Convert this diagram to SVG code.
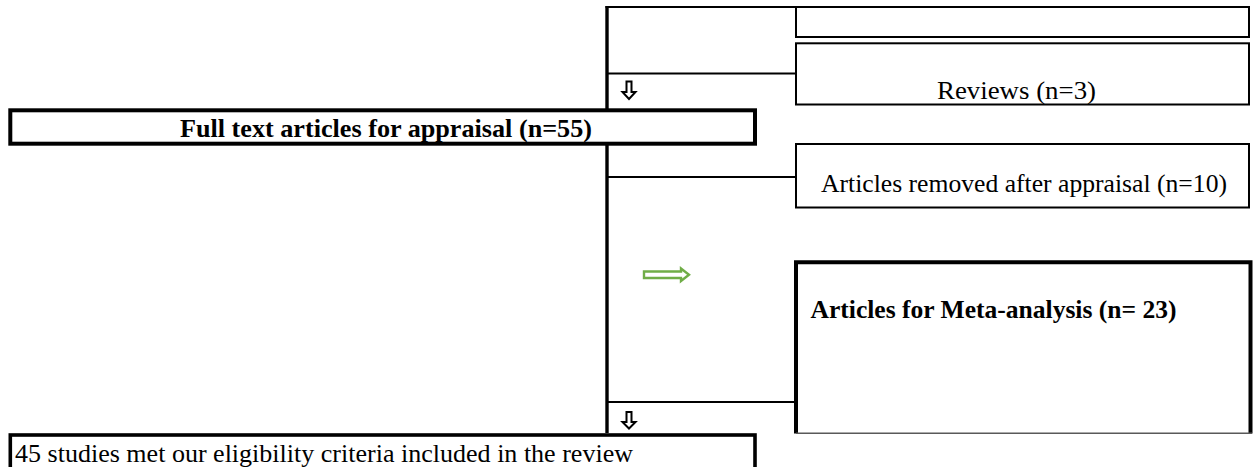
<svg xmlns="http://www.w3.org/2000/svg" width="1253" height="467" viewBox="0 0 1253 467">
<style>
.box{fill:#ffffff;stroke:#000000}
.thin{stroke-width:2}
.thick{stroke-width:4}
.t{font-family:"Liberation Serif","Times New Roman",serif;font-size:25px;fill:#000000}
.b{font-weight:bold;font-size:24.5px}
.ln{stroke:#000000;fill:none}
.arr{fill:#ffffff;stroke:#000000;stroke-width:2;stroke-linejoin:miter}
</style>
<rect width="1253" height="467" fill="#ffffff"/>
<g id="connectors">
<path class="ln" d="M607 6 V433" stroke-width="3.4"/>
<path class="ln" d="M605.5 7 H797" stroke-width="2.2"/>
<path class="ln" d="M607 73.5 H796" stroke-width="1.8"/>
<path class="ln" d="M607 177 H796" stroke-width="1.8"/>
<path class="ln" d="M607 402 H796" stroke-width="1.8"/>
<polygon class="arr" points="626.5,81.5 631.5,81.5 631.5,92 635.5,92 629,99 622.5,92 626.5,92"/>
<polygon class="arr" points="626.5,412 631.5,412 631.5,422 635.5,422 629,428.5 622.5,422 626.5,422"/>
<polygon points="644,271.5 681,271.5 681,268.5 689,274.8 681,281 681,278 644,278" fill="#ffffff" stroke="#70AD47" stroke-width="2.4"/>
</g>
<g id="top-box">
<rect class="box thin" x="796" y="7" width="453" height="30"/>
</g>
<g id="reviews">
<rect class="box thin" x="796" y="43.3" width="453" height="61.2"/>
<text class="t" x="937" y="99" textLength="159" lengthAdjust="spacingAndGlyphs">Reviews (n=3)</text>
</g>
<g id="full-text">
<rect class="box thick" x="10.3" y="110.3" width="744.7" height="33.4"/>
<text class="t b" x="180" y="136.5" textLength="412" lengthAdjust="spacingAndGlyphs">Full text articles for appraisal (n=55)</text>
</g>
<g id="removed">
<rect class="box thin" x="796" y="144" width="453" height="63.5"/>
<text class="t" x="821" y="192" textLength="406" lengthAdjust="spacingAndGlyphs">Articles removed after appraisal (n=10)</text>
</g>
<g id="meta">
<rect x="796" y="262.3" width="454.5" height="171" fill="#ffffff"/>
<path d="M796 433.5 V262.3 H1250.5 V433.5" fill="none" stroke="#000000" stroke-width="4"/>
<path d="M796 433.3 H1252" fill="none" stroke="#595959" stroke-width="1.6"/>
<text class="t b" x="810.5" y="317.5" textLength="366" lengthAdjust="spacingAndGlyphs">Articles for Meta-analysis (n= 23)</text>
</g>
<g id="included">
<rect class="box" stroke-width="3.6" x="10.3" y="435" width="744.7" height="40"/>
<text class="t" x="15" y="462" textLength="618" lengthAdjust="spacingAndGlyphs">45 studies met our eligibility criteria included in the review</text>
</g>
</svg>
